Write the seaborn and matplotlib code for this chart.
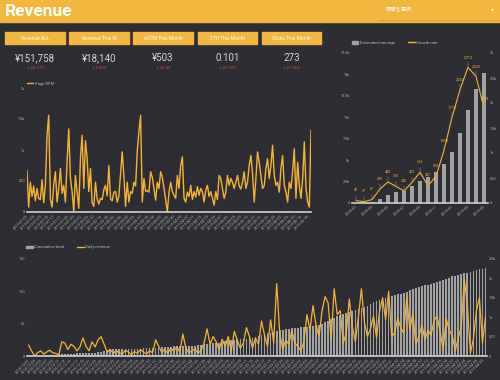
"""Revenue dashboard: KPI header, daily RPM line, monthly earnings and daily revenue."""

import numpy as np
import pandas as pd
import matplotlib
matplotlib.use("Agg")
import matplotlib.pyplot as plt
from matplotlib.patches import Rectangle, Patch
from matplotlib.lines import Line2D
import seaborn as sns

BG = "#2e2d33"
YELLOW = "#f3b63e"
ORANGE = "#f5b335"
GRAY = "#a3a3a3"
TXT = "#b8b8b8"

# KPI row
kpi_labels = ["Revenue ALL", "Revenue This M", "eCPM This Month", "CTR This Month", "Clicks This Month"]
kpi_values = ["¥151,758", "¥18,140", "¥503", "0.101", "273"]
kpi_changes = ["↓-28.17%", "↓-6.09%", "↓-26.4%", "↓-22.09%", "↓-27.06%"]

# top left: daily RPM
rpm_values = [
    670, 80, 480, 250, 420, 180, 380, 220, 200, 520, 150, 430, 1240, 1560, 200, 80,
    440, 650, 160, 380, 700, 300, 430, 160, 820, 1340, 540, 330, 0, 590, 320, 60,
    870, 1240, 380, 1150, 860, 330, 700, 150, 90, 480, 210, 130, 220, 200, 360, 430,
    260, 750, 210, 180, 320, 330, 160, 260, 620, 970, 580, 90, 480, 160, 330, 300,
    480, 420, 970, 1300, 1560, 160, 540, 330, 350, 320, 650, 560, 380, 190, 480, 380,
    650, 560, 380, 200, 0, 320, 480, 330, 270, 220, 590, 380, 750, 890, 220, 160,
    320, 250, 430, 200, 330, 240, 410, 270, 380, 330, 160, 350, 430, 250, 330, 220,
    110, 330, 200, 590, 540, 380, 220, 320, 590, 430, 540, 480, 380, 480, 590, 420,
    370, 480, 650, 380, 480, 750, 910, 620, 160, 540, 970, 800, 590, 380, 420, 700,
    860, 540, 750, 1075, 590, 430, 480, 320, 700, 910, 430, 320, 160, 480, 380, 650,
    1020, 220, 800, 430, 220, 540, 1130, 380, 160, 80, 1317,
]
rpm_dates = pd.date_range("2019-01-01", periods=len(rpm_values)).strftime("%Y-%m-%d")

# top right: monthly earnings (bars) and growth (line)
month_labels = ["2018-01", "2018-02", "2018-03", "2018-04", "2018-05", "2018-06",
                "2018-07", "2018-08", "2018-09", "2018-10", "2018-11", "2018-12",
                "2019-01", "2019-02", "2019-03", "2019-04", "2019-05"]
month_earnings = [0, 0, 156, 505, 894, 1244, 1439, 1944, 2605, 2994, 3578,
                  4511, 5989, 8206, 10889, 13339, 15128]
month_growth = [47, 27, 67, 280, 420, 333, 240, 413, 613, 347, 533,
                1053, 1713, 2267, 2713, 2533, 1900]

# bottom: cumulative total (bars) and daily revenue (line)
daily_total = [
    0, 0, 0, 0, 10, 15, 20, 25, 30, 35,
    40, 45, 50, 55, 60, 62, 65, 68, 70, 72,
    75, 80, 90, 100, 110, 120, 150, 180, 185, 188,
    190, 190, 190, 192, 192, 192, 193, 193, 195, 195,
    195, 198, 200, 215, 220, 230, 235, 240, 245, 250,
    250, 255, 260, 262, 265, 270, 280, 290, 300, 310,
    320, 325, 330, 345, 360, 380, 400, 410, 420, 430,
    440, 445, 450, 460, 475, 490, 510, 530, 550, 580,
    600, 620, 640, 660, 675, 690, 700, 710, 720, 730,
    740, 750, 760, 770, 780, 795, 800, 830, 870, 910,
    950, 990, 1030, 1060, 1090, 1120, 1140, 1150, 1180, 1210,
    1240, 1270, 1300, 1340, 1380, 1410, 1440, 1470, 1500, 1530,
    1550, 1570, 1590, 1610, 1630, 1660, 1690, 1720, 1750, 1775,
    1800, 1820, 1840, 1860, 1880, 1900, 1930, 1960, 1990, 2020,
    2050, 2070, 2090, 2110, 2130, 2150, 2170, 2190, 2210, 2230,
    2250, 2275,
]
daily_revenue = [
    17, 8, 0, 5, 8, 3, 6, 9, 5, 4,
    2, 22, 20, 10, 18, 15, 8, 14, 28, 15,
    8, 22, 14, 25, 30, 18, 6, 10, 4, 8,
    5, 3, 9, 6, 2, 7, 4, 10, 6, 3,
    8, 5, 25, 15, 6, 10, 4, 12, 8, 14,
    6, 34, 12, 5, 8, 11, 4, 9, 20, 42,
    18, 30, 22, 10, 26, 15, 30, 8, 38, 24,
    12, 20, 44, 30, 12, 28, 18, 54, 32, 15,
    56, 20, 112, 36, 10, 25, 18, 40, 20, 15,
    8, 22, 64, 40, 78, 48, 30, 70, 92, 82,
    26, 104, 64, 70, 20, 36, 88, 45, 22, 60,
    104, 52, 30, 42, 62, 28, 70, 90, 56, 100,
    30, 36, 58, 44, 35, 92, 40, 66, 18, 30,
    48, 25, 40, 32, 55, 62, 38, 10, 58, 40,
    32, 8, 28, 45, 118, 80, 4, 26, 70, 90,
    20, 60,
]
daily_dates = pd.date_range("2018-12-01", periods=len(daily_total)).strftime("%Y-%m-%d")

sns.set_style("dark", {"axes.facecolor": BG, "figure.facecolor": BG})
plt.rcParams["font.family"] = ["Roboto", "Noto Sans CJK JP", "DejaVu Sans"]

W, H = 500, 380
fig = plt.figure(figsize=(5, 3.8), dpi=100)
fig.patch.set_facecolor(BG)


def px_rect(x0, y0, x1, y1):
    """pixel box (top-left origin) -> figure fraction rect"""
    return [x0 / W, 1 - y1 / H, (x1 - x0) / W, (y1 - y0) / H]


def style_axis(ax, bottom=True):
    for s in ax.spines.values():
        s.set_visible(False)
    if bottom:
        ax.spines["bottom"].set_visible(True)
        ax.spines["bottom"].set_color("#d0d0d0")
        ax.spines["bottom"].set_linewidth(1.2)
    ax.tick_params(length=0, colors=TXT, labelsize=2.8, pad=1.5)
    ax.set_facecolor(BG)
    ax.grid(False)
    ax.set_xlabel("")
    ax.set_ylabel("")


def kfmt(v):
    if v == 0:
        return "0"
    if v >= 1000:
        s = f"{v/1000:.1f}".rstrip("0").rstrip(".")
        return s + "k"
    return str(int(v))


# header band
fig.add_artist(Rectangle((0, 1 - 22 / H), 1, 22 / H, transform=fig.transFigure,
                         color=YELLOW, zorder=0))
fig.text(5 / W, 1 - 11 / H, "Revenue", color="white", fontsize=12.5,
         fontweight="bold", va="center", ha="left")
fig.add_artist(Rectangle((378 / W, 1 - 19.5 / H), 122 / W, 17 / H, transform=fig.transFigure,
                         color="#d9a234", zorder=1))
fig.add_artist(Rectangle((377 / W, 1 - 18.5 / H), 123 / W, 17 / H, transform=fig.transFigure,
                         color=YELLOW, zorder=2))
fig.text(386 / W, 1 - 10 / H, "期間を選択", color="white", fontsize=3.8,
         va="center", ha="left", zorder=3)
fig.text(492 / W, 1 - 10 / H, "▾", color="white", fontsize=4,
         va="center", ha="center", zorder=3, family="DejaVu Sans")

# KPI buttons
btn_x = [(5, 65), (69, 129), (133, 193), (198, 257), (262, 321)]
for (x0, x1), lab, val, chg in zip(btn_x, kpi_labels, kpi_values, kpi_changes):
    fig.add_artist(Rectangle((x0 / W, 1 - 44 / H), (x1 - x0) / W, 12 / H,
                             transform=fig.transFigure, color=YELLOW))
    cx = (x0 + x1) / 2 / W
    fig.text(cx, 1 - 38 / H, lab, color="white", fontsize=3.5, ha="center", va="center")
    fig.text(cx, 1 - 58 / H, val, color="#d6d6d6", fontsize=7, ha="center", va="center")
    fig.text(cx, 1 - 68 / H, chg, color="#e0433a", fontsize=3, ha="center", va="center",
             family=["Roboto", "DejaVu Sans"])

# top-left chart: RPM
ax1 = fig.add_axes(px_rect(27, 88, 311, 212))
x1 = np.arange(len(rpm_values))
sns.lineplot(x=x1, y=rpm_values, ax=ax1, color=ORANGE, linewidth=1.0)
ax1.set_xlim(0, len(rpm_values) - 1)
ax1.set_ylim(0, 2000)
ax1.set_yticks([0, 500, 1000, 1500, 2000])
ax1.set_yticklabels([kfmt(v) for v in [0, 500, 1000, 1500, 2000]])
ax1.set_xticks(x1[::4])
ax1.set_xticklabels(rpm_dates[::4], rotation=45, ha="right", rotation_mode="anchor")
style_axis(ax1)
ax1.legend(handles=[Line2D([0], [0], color=ORANGE, lw=1)], labels=["Page RPM"],
           loc="lower left", bbox_to_anchor=(-0.01, 1.0), frameon=False,
           fontsize=3, labelcolor=TXT, handlelength=1.6, handletextpad=0.4,
           borderaxespad=0.2)

# top-right chart: monthly earnings and growth
ax2 = fig.add_axes(px_rect(352, 53, 488, 203))
sns.barplot(x=month_labels, y=month_earnings, ax=ax2, color=GRAY, width=0.6,
            saturation=1, edgecolor="none", linewidth=0)
ax2.set_ylim(0, 17500)
ax2.set_yticks(np.arange(0, 17501, 2500))
ax2.set_yticklabels([kfmt(v) for v in np.arange(0, 17501, 2500)])
ax2.set_xticks(range(0, len(month_labels), 2))
ax2.set_xticklabels(month_labels[::2], rotation=40, ha="right", rotation_mode="anchor")
style_axis(ax2)
ax2b = ax2.twinx()
sns.lineplot(x=np.arange(len(month_growth)), y=month_growth, ax=ax2b, color=ORANGE,
             linewidth=0.8)
ax2b.set_ylim(0, 3000)
ax2b.set_yticks(np.arange(0, 3001, 500))
ax2b.set_yticklabels([kfmt(v) for v in np.arange(0, 3001, 500)])
style_axis(ax2b, bottom=False)
ax2.set_xlim(-0.5, len(month_labels) - 0.5)
for i, v in enumerate(month_growth):
    ax2b.annotate(f"{v:,}", xy=(i, v), xytext=(0, 6), textcoords="offset points",
                  ha="center", va="bottom", color=ORANGE, fontsize=2.6,
                  arrowprops=dict(arrowstyle="-", color="#8a8a8a", lw=0.4,
                                  shrinkA=0, shrinkB=0))
ax2.legend(handles=[Patch(color=GRAY), Line2D([0], [0], color=ORANGE, lw=1)],
           labels=["Estimated earnings", "Growth rate"], loc="lower left",
           bbox_to_anchor=(-0.03, 1.03), ncol=2, frameon=False, fontsize=3,
           labelcolor=TXT, handlelength=1.6, handletextpad=0.4, columnspacing=3)

# bottom chart: cumulative total and daily revenue
ax3 = fig.add_axes(px_rect(27, 259, 487, 356))
ax3b = ax3.twinx()
sns.barplot(x=np.arange(len(daily_total)), y=daily_total, ax=ax3b, color=GRAY,
            width=0.55, saturation=1, edgecolor="none", linewidth=0)
ax3b.set_ylim(0, 2500)
ax3b.set_yticks(np.arange(0, 2501, 500))
ax3b.set_yticklabels([kfmt(v) for v in np.arange(0, 2501, 500)])
style_axis(ax3b, bottom=False)
x3 = np.arange(len(daily_revenue))
sns.lineplot(x=x3, y=daily_revenue, ax=ax3, color=ORANGE, linewidth=0.9)
ax3.set_ylim(0, 150)
ax3.set_yticks([0, 50, 100, 150])
ax3.set_xlim(-0.5, len(daily_total) - 0.5)
ax3.set_xticks(x3[::2])
ax3.set_xticklabels(daily_dates[::2], rotation=45, ha="right", rotation_mode="anchor")
style_axis(ax3)
ax3.set_zorder(ax3b.get_zorder() + 1)
ax3.patch.set_visible(False)
ax3.legend(handles=[Patch(color=GRAY), Line2D([0], [0], color=ORANGE, lw=1)],
           labels=["Cumulative total", "Daily revenue"], loc="lower left",
           bbox_to_anchor=(-0.01, 1.06), ncol=2, frameon=False, fontsize=3,
           labelcolor=TXT, handlelength=1.6, handletextpad=0.4, columnspacing=3)

fig.savefig("out.png", dpi=100, facecolor=BG)
